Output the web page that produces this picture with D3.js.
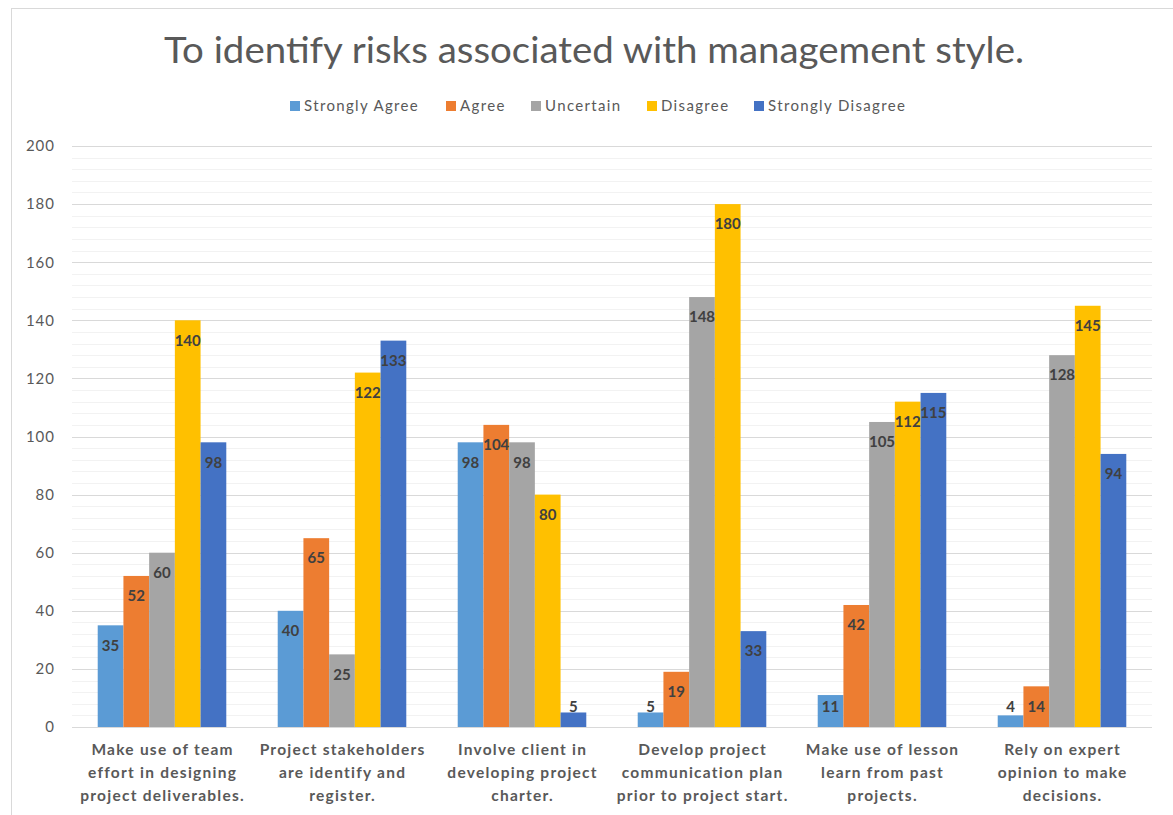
<!DOCTYPE html>
<html>
<head>
<meta charset="utf-8">
<script src="https://cdn.jsdelivr.net/npm/d3@7"></script>
<style>
  html, body { margin: 0; padding: 0; background: #fff; }
  svg { display: block; }
  text { font-family: Lato, "Open Sans", sans-serif; }
</style>
</head>
<body>
<svg id="chart" width="1173" height="815"></svg>
<script>
// Survey responses per management-style statement
const categories = [
  ["Make use of team", "effort in designing", "project deliverables."],
  ["Project stakeholders", "are identify and", "register."],
  ["Involve client in", "developing project", "charter."],
  ["Develop project", "communication plan", "prior to project start."],
  ["Make use of lesson", "learn from past", "projects."],
  ["Rely on expert", "opinion to make", "decisions."]
];
const seriesNames = ["Strongly Agree", "Agree", "Uncertain", "Disagree", "Strongly Disagree"];
const stronglyAgree    = [35, 40, 98, 5, 11, 4];
const agree            = [52, 65, 104, 19, 42, 14];
const uncertain        = [60, 25, 98, 148, 105, 128];
const disagree         = [140, 122, 80, 180, 112, 145];
const stronglyDisagree = [98, 133, 5, 33, 115, 94];
const yTicks = [0, 20, 40, 60, 80, 100, 120, 140, 160, 180, 200];
const colors = ["#5B9BD5", "#ED7D31", "#A5A5A5", "#FFC000", "#4472C4"];

const seriesValues = [stronglyAgree, agree, uncertain, disagree, stronglyDisagree];
const title = "To identify risks associated with management style.";

const svg = d3.select("#chart");
const W = 1173, H = 815;
const plot = { left: 72, right: 1152, top: 146, bottom: 727 };

// chart frame
svg.append("rect")
  .attr("x", 11.5).attr("y", 8.5)
  .attr("width", W).attr("height", H)
  .attr("fill", "#fff").attr("stroke", "#d9d9d9").attr("stroke-width", 1);

const x0 = d3.scaleBand()
  .domain(d3.range(categories.length))
  .range([plot.left, plot.right])
  .paddingInner(0).paddingOuter(0);

// 5 bars plus a gap of two bar widths per group
const x1 = d3.scaleBand()
  .domain(d3.range(seriesNames.length))
  .range([0, x0.bandwidth()])
  .paddingInner(0)
  .paddingOuter(1);

const y = d3.scaleLinear().domain([0, 200]).range([plot.bottom, plot.top]);

// minor gridlines
const minor = d3.range(0, 201, 4).filter(v => v % 20 !== 0);
svg.append("g").selectAll("line").data(minor).join("line")
  .attr("x1", plot.left).attr("x2", plot.right)
  .attr("y1", d => Math.round(y(d)) + 0.5).attr("y2", d => Math.round(y(d)) + 0.5)
  .attr("stroke", "#f2f2f2").attr("stroke-width", 1);

// major gridlines
svg.append("g").selectAll("line").data(yTicks).join("line")
  .attr("x1", plot.left).attr("x2", plot.right)
  .attr("y1", d => Math.round(y(d)) + 0.5).attr("y2", d => Math.round(y(d)) + 0.5)
  .attr("stroke", "#d9d9d9").attr("stroke-width", 1);

// y axis labels
const yAxis = d3.axisLeft(y).tickValues(yTicks).tickSize(0).tickPadding(0);
const yg = svg.append("g").attr("transform", `translate(${55},0)`).call(yAxis);
yg.select(".domain").remove();
yg.selectAll("text")
  .attr("fill", "#595959")
  .style("font-size", "15px")
  .style("letter-spacing", "1px")
  .style("font-family", "Lato, sans-serif");

// bars
const groups = svg.append("g").selectAll("g").data(categories).join("g")
  .attr("transform", (d, i) => `translate(${x0(i)},0)`);

groups.each(function(cat, ci) {
  const g = d3.select(this);
  seriesValues.forEach((vals, si) => {
    const v = vals[ci];
    g.append("rect")
      .attr("x", x1(si))
      .attr("y", y(v))
      .attr("width", x1.bandwidth())
      .attr("height", y(0) - y(v))
      .attr("fill", colors[si]);
  });
});

// value labels (inside end)
groups.each(function(cat, ci) {
  const g = d3.select(this);
  seriesValues.forEach((vals, si) => {
    const v = vals[ci];
    const cy = Math.min(y(v) + 20, y(0) - 20);
    g.append("text")
      .attr("x", x1(si) + x1.bandwidth() / 2)
      .attr("y", cy)
      .attr("dy", "0.35em")
      .attr("text-anchor", "middle")
      .attr("fill", "#404040")
      .style("font-size", "15px")
      .style("font-weight", "bold")
      .text(v);
  });
});

// category labels
groups.each(function(lines, ci) {
  const g = d3.select(this);
  const t = g.append("text")
    .attr("text-anchor", "middle")
    .attr("fill", "#595959")
    .style("font-size", "15.5px")
    .style("letter-spacing", "1.25px")
    .style("font-weight", "bold");
  lines.forEach((ln, li) => {
    t.append("tspan")
      .attr("x", x0.bandwidth() / 2 + 0.6)
      .attr("y", 755 + li * 23)
      .text(ln);
  });
});

// title
svg.append("text")
  .attr("x", 594).attr("y", 63)
  .attr("text-anchor", "middle")
  .attr("fill", "#595959")
  .style("font-size", "37px")
  .style("font-weight", "400")
  .attr("textLength", 860)
  .attr("lengthAdjust", "spacingAndGlyphs")
  .text(title);

// legend
const legendX = [290, 446, 531, 647, 754];
const legend = svg.append("g");
seriesNames.forEach((name, i) => {
  legend.append("rect")
    .attr("x", legendX[i]).attr("y", 101)
    .attr("width", 10).attr("height", 10)
    .attr("fill", colors[i]);
  legend.append("text")
    .attr("x", legendX[i] + 14).attr("y", 106)
    .attr("dy", "0.35em")
    .attr("fill", "#595959")
    .style("font-size", "15px")
    .style("letter-spacing", "1.35px")
    .text(name);
});
</script>
</body>
</html>
